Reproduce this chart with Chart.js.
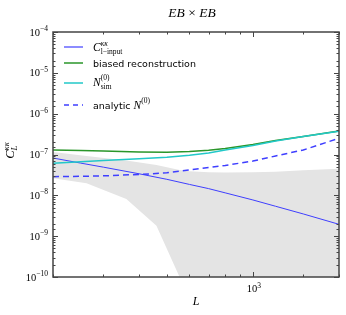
<!DOCTYPE html>
<html><head><meta charset="utf-8">
<script src="https://cdn.jsdelivr.net/npm/chart.js@4/dist/chart.umd.min.js"></script>
<style>html,body{margin:0;padding:0;background:#fff}#wrap{width:346px;height:315px;position:relative}</style>
</head><body><div id="wrap"><canvas id="c" width="346" height="315"></canvas></div>
<script>
// ---- data ----
const L = [200, 250, 300, 400, 500, 600, 700, 800, 1000, 1200, 1500, 2000];
const clInput  = [8.2e-8, 6.15e-8, 4.9e-8, 3.37e-8, 2.47e-8, 1.85e-8, 1.46e-8, 1.15e-8, 7.7e-9, 5.4e-9, 3.5e-9, 1.95e-9];
const biased   = [1.29e-7, 1.26e-7, 1.22e-7, 1.15e-7, 1.13e-7, 1.18e-7, 1.27e-7, 1.40e-7, 1.76e-7, 2.2e-7, 2.76e-7, 3.76e-7];
const nSim     = [6.1e-8, 6.6e-8, 7.1e-8, 7.9e-8, 8.6e-8, 9.6e-8, 1.09e-7, 1.29e-7, 1.66e-7, 2.14e-7, 2.75e-7, 3.7e-7];
const analytic = [2.86e-8, 2.92e-8, 3.0e-8, 3.24e-8, 3.56e-8, 4.2e-8, 4.8e-8, 5.4e-8, 6.9e-8, 9.2e-8, 1.29e-7, 2.5e-7];
const bandL    = [200, 262, 361, 460, 554, 600, 700, 800, 1000, 1200, 1500, 2000];
const bandHigh = [1.15e-7, 9.2e-8, 7.1e-8, 5.5e-8, 4.17e-8, 3.9e-8, 3.7e-8, 3.6e-8, 3.65e-8, 3.8e-8, 4.1e-8, 4.5e-8];
const bandLow  = [2.61e-8, 1.97e-8, 8.1e-9, 1.8e-9, 1.0e-10, 1e-13, 1e-13, 1e-13, 1e-13, 1e-13, 1e-13, 1e-13];
const yTickExps = [-4, -5, -6, -7, -8, -9, -10];
const xTickExps = [3];

const SERIF = '"Liberation Serif", "DejaVu Serif", serif';
const SANS = '"DejaVu Sans", "Liberation Sans", sans-serif';

function pts(xs, ys){ return xs.map((x,i)=>({x:x, y:ys[i]})); }

function runWidth(ctx, segs){
  let w=0, pend=0;
  for(const s of segs){ ctx.font=s.f; const sw=ctx.measureText(s.t).width;
    if(s.stack){ pend=sw; } else { w+=Math.max(sw,pend); pend=0; } }
  return w+pend;
}
function drawRun(ctx, x, y, segs, color){
  ctx.fillStyle=color||'#000'; ctx.textBaseline='alphabetic'; ctx.textAlign='left';
  let cx=x, pend=0;
  for(const s of segs){ ctx.font=s.f; const sw=ctx.measureText(s.t).width;
    ctx.fillText(s.t, cx + (s.dx||0), y+(s.dy||0));
    if(s.stack){ pend=sw; } else { cx+=Math.max(sw,pend); pend=0; } }
}
const it = (px)=>'italic '+px+'px '+SERIF;
const rm = (px)=>px+'px '+SERIF;

const BLUE='#3f3fff', GREEN='#2a962a', CYAN='#22c8c8';

const decor = {
  id:'decor',
  afterDraw(chart){
    const ctx=chart.ctx, a=chart.chartArea, xs=chart.scales.x, ys=chart.scales.y;
    ctx.save();
    ctx.strokeStyle='#444'; ctx.lineWidth=1;
    for(const t of ys.ticks){
      const p=Math.round(ys.getPixelForValue(t.value))+0.5;
      const lg=Math.log10(t.value), maj=Math.abs(lg-Math.round(lg))<1e-6;
      const len=maj?5:2.5;
      ctx.beginPath(); ctx.moveTo(a.left,p); ctx.lineTo(a.left+len,p);
      ctx.moveTo(a.right,p); ctx.lineTo(a.right-len,p); ctx.stroke();
    }
    for(const t of xs.ticks){
      const p=Math.round(xs.getPixelForValue(t.value))+0.5;
      const lg=Math.log10(t.value), maj=Math.abs(lg-Math.round(lg))<1e-6;
      const len=maj?5:2.5;
      ctx.beginPath(); ctx.moveTo(p,a.bottom); ctx.lineTo(p,a.bottom-len);
      ctx.moveTo(p,a.top); ctx.lineTo(p,a.top+len); ctx.stroke();
    }
    ctx.strokeStyle='#444'; ctx.lineWidth=1.5;
    ctx.strokeRect(a.left, a.top, a.right-a.left, a.bottom-a.top);

    for(const e of yTickExps){
      const p=ys.getPixelForValue(Math.pow(10,e));
      const segs=[{t:'10',f:rm(10.5)},{t:'\u2212'+(-e),f:rm(7.5),dy:-4.5}];
      const w=runWidth(ctx,segs);
      drawRun(ctx, a.left-5-w, p+3.5, segs, '#000');
    }
    for(const e of xTickExps){
      const p=xs.getPixelForValue(Math.pow(10,e));
      const segs=[{t:'10',f:rm(10.5)},{t:String(e),f:rm(7.5),dy:-4.5}];
      const w=runWidth(ctx,segs);
      drawRun(ctx, p-w/2+1, a.bottom+15, segs, '#000');
    }
    {
      const segs=[{t:'EB',f:it(13.5)},{t:' \u00d7 ',f:rm(13.5)},{t:'EB',f:it(13.5)}];
      const w=runWidth(ctx,segs);
      drawRun(ctx, (a.left+a.right)/2-w/2-4, 17, segs, '#000');
    }
    {
      const segs=[{t:'L',f:it(12)}];
      const w=runWidth(ctx,segs);
      drawRun(ctx, (a.left+a.right)/2-w/2, 305, segs, '#000');
    }
    {
      ctx.save(); ctx.translate(14, (a.top+a.bottom)/2-4); ctx.rotate(-Math.PI/2);
      const segs=[{t:'C',f:it(12.5)},{t:'\u03ba\u03ba',f:it(8.5),dy:-5.5,stack:true},{t:'L',f:it(8.5),dy:3}];
      const w=runWidth(ctx,segs);
      drawRun(ctx, -w/2, 0, segs, '#000');
      ctx.restore();
    }
    const lx0=64, lx1=83, tx=93;
    const rows=[
      {y:47, color:BLUE, w:1.2, dash:[], segs:[{t:'C',f:it(11.5)},{t:'\u03ba\u03ba',f:it(7.5),dy:-5,stack:true},{t:'l\u2212input',f:rm(7.5),dy:3}], by:50.5},
      {y:63, color:GREEN, w:1.5, dash:[], segs:[{t:'biased reconstruction',f:'9.5px '+SANS}], by:66.5},
      {y:83, color:CYAN, w:1.5, dash:[], segs:[{t:'N',f:it(11.5)},{t:'(0)',f:rm(7.5),dy:-5.5,stack:true},{t:'sim',f:rm(7.5),dy:3}], by:85.5},
      {y:105, color:BLUE, w:1.5, dash:[5,4], segs:[{t:'analytic ',f:'9.5px '+SANS},{t:'N',f:it(11.5)},{t:'(0)',f:rm(7.5),dy:-5.5}], by:108.5}
    ];
    for(const r of rows){
      ctx.strokeStyle=r.color; ctx.lineWidth=r.w; ctx.setLineDash(r.dash);
      ctx.beginPath(); ctx.moveTo(lx0, r.y); ctx.lineTo(lx1, r.y); ctx.stroke();
      ctx.setLineDash([]);
      drawRun(ctx, tx, r.by, r.segs, '#000');
    }
    ctx.restore();
  }
};

new Chart(document.getElementById('c').getContext('2d'), {
  type:'line',
  data:{datasets:[
    {label:'C_input', data:pts(L,clInput), borderColor:BLUE, borderWidth:1, pointRadius:0, fill:false, order:4},
    {label:'biased reconstruction', data:pts(L,biased), borderColor:GREEN, borderWidth:1.5, pointRadius:0, fill:false, order:3},
    {label:'N_sim', data:pts(L,nSim), borderColor:CYAN, borderWidth:1.5, pointRadius:0, fill:false, order:2},
    {label:'analytic N0', data:pts(L,analytic), borderColor:BLUE, borderWidth:1.5, borderDash:[6,4], pointRadius:0, fill:false, order:1},
    {label:'bandLow', data:pts(bandL,bandLow), borderWidth:0, borderColor:'rgba(0,0,0,0)', pointRadius:0, fill:false, order:10},
    {label:'bandHigh', data:pts(bandL,bandHigh), borderWidth:0, borderColor:'rgba(0,0,0,0)', pointRadius:0, fill:'-1', backgroundColor:'#e4e4e4', order:9}
  ]},
  options:{
    responsive:false, animation:false, devicePixelRatio:1,
    layout:{padding:{left:0, right:7, top:32, bottom:0}},
    plugins:{legend:{display:false}, tooltip:{enabled:false}, title:{display:false}, filler:{drawTime:'beforeDatasetsDraw'}},
    scales:{
      x:{type:'logarithmic', min:200, max:2000, grid:{display:false, drawTicks:false}, border:{display:false},
         ticks:{autoSkip:false, maxRotation:0, callback:()=>''}, afterFit(s){ s.height=38; }},
      y:{type:'logarithmic', min:1e-10, max:1e-4, grid:{display:false, drawTicks:false}, border:{display:false},
         ticks:{autoSkip:false, callback:()=>''}, afterFit(s){ s.width=53; }}
    }
  },
  plugins:[decor]
});
</script></body></html>
